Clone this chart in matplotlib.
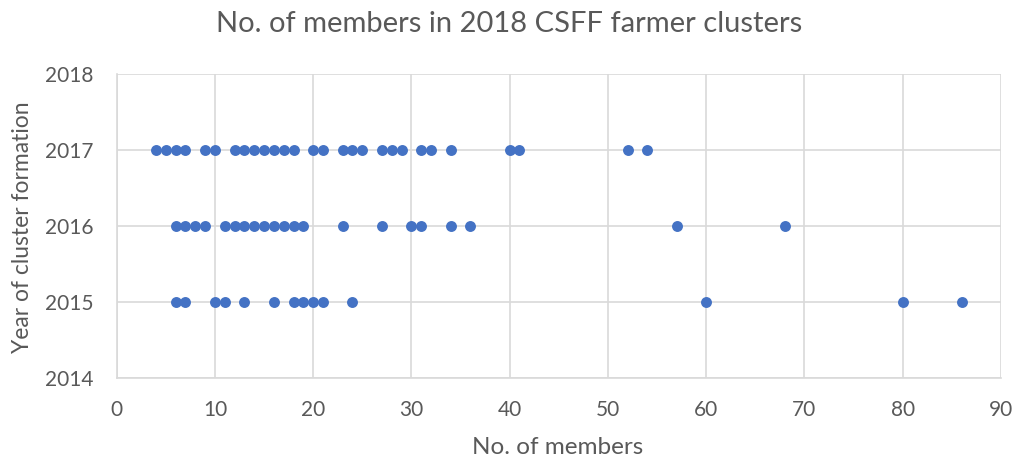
import matplotlib
matplotlib.use("Agg")
import matplotlib.pyplot as plt

# members per cluster, by year of formation
members_2017 = [4, 5, 6, 7, 9, 10, 12, 13, 14, 15, 16, 17, 18, 20, 21, 23, 24, 25,
                27, 28, 29, 31, 32, 34, 40, 41, 52, 54]
members_2016 = [6, 7, 8, 9, 11, 12, 13, 14, 15, 16, 17, 18, 19, 23, 27, 30, 31, 34,
                36, 57, 68]
members_2015 = [6, 7, 10, 11, 13, 16, 18, 19, 20, 21, 24, 60, 80, 86]

x_ticks = list(range(0, 91, 10))
y_ticks = [2014, 2015, 2016, 2017, 2018]

text_color = "#595959"
grid_color = "#d9d9d9"
dot_color = "#4472C4"

plt.rcParams['font.family'] = ['Lato', 'DejaVu Sans']

fig = plt.figure(figsize=(10.17, 4.63), dpi=100)
ax = fig.add_axes([0.1147, 0.1836, 0.8695, 0.6564])

for year, vals in [(2017, members_2017), (2016, members_2016), (2015, members_2015)]:
    ax.scatter(vals, [year] * len(vals), s=62, color=dot_color, zorder=3, linewidths=0)

ax.set_xlim(0, 90)
ax.set_ylim(2014, 2018)
ax.set_xticks(x_ticks)
ax.set_yticks(y_ticks)
ax.grid(True, color=grid_color, linewidth=1.2, zorder=0)
ax.tick_params(length=0, labelsize=15, labelcolor=text_color)
ax.tick_params(axis='x', pad=16)
ax.tick_params(axis='y', pad=17)

for side in ['top', 'right']:
    ax.spines[side].set_visible(False)
for side in ['left', 'bottom']:
    ax.spines[side].set_color(grid_color)
    ax.spines[side].set_linewidth(1.2)

fig.text(509 / 1017, 1 - 24 / 463, 'No. of members in 2018 CSFF farmer clusters',
         ha='center', va='center', fontsize=21, color=text_color)
fig.text(558 / 1017, 1 - 448 / 463, 'No. of members', ha='center', va='center',
         fontsize=17.5, color=text_color)
fig.text(23 / 1017, 1 - 227 / 463, 'Year of cluster formation', ha='center', va='center',
         rotation=90, fontsize=16.5, color=text_color)

fig.savefig('out.png', dpi=100)
